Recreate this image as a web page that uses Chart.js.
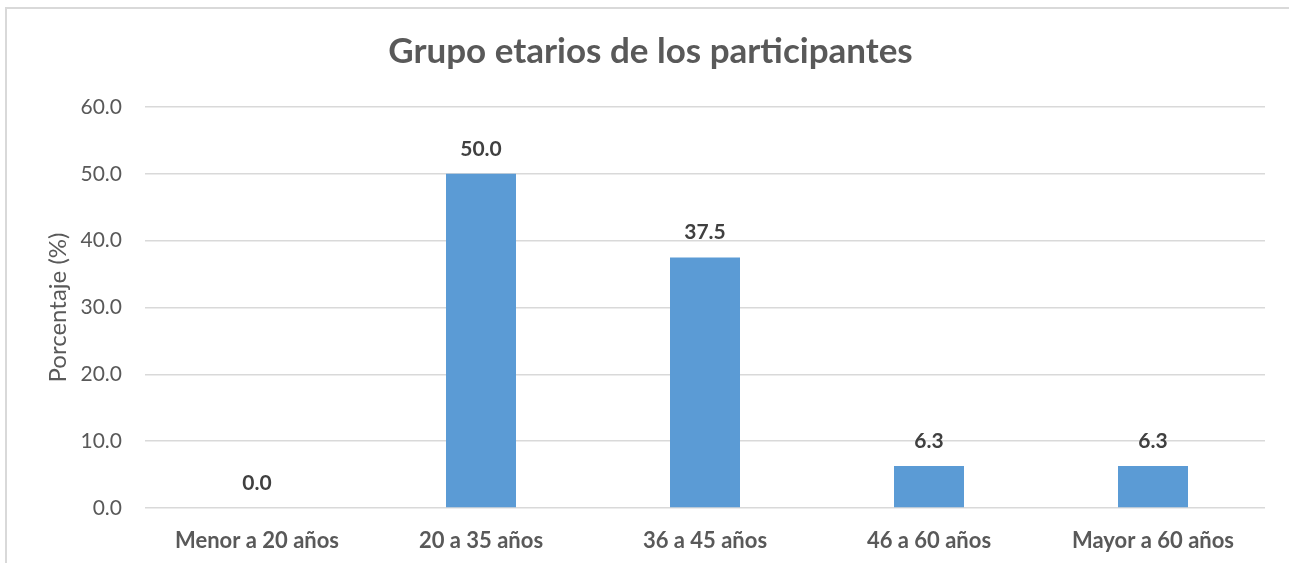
<!DOCTYPE html>
<html>
<head>
<meta charset="utf-8">
<script src="https://cdn.jsdelivr.net/npm/chart.js@4/dist/chart.umd.min.js"></script>
<style>
  html, body { margin:0; padding:0; background:#fff; }
  #wrap { position:relative; width:1289px; height:563px; overflow:hidden; }
  #frame { position:absolute; left:5px; top:7px; width:1300px; height:600px; border:2px solid #d9d9d9; box-sizing:border-box; }
  canvas { position:absolute; left:0; top:0; }
</style>
</head>
<body>
<div id="wrap">
  <div id="frame"></div>
  <canvas id="c" width="1289" height="563"></canvas>
</div>
<script>
const categories = ['Menor a 20 años', '20 a 35 años', '36 a 45 años', '46 a 60 años', 'Mayor a 60 años'];
const percentages = [0.0, 50.0, 37.5, 6.3, 6.3];
const yTicks = [0, 10, 20, 30, 40, 50, 60];
const chartTitle = 'Grupo etarios de los participantes';
const yTitle = 'Porcentaje (%)';

const FONT = 'Lato, "Open Sans", sans-serif';

const valueLabels = {
  id: 'valueLabels',
  afterDatasetsDraw(chart) {
    const ctx = chart.ctx;
    const meta = chart.getDatasetMeta(0);
    ctx.save();
    ctx.font = 'bold 21px ' + FONT;
    ctx.fillStyle = '#404040';
    ctx.textAlign = 'center';
    ctx.textBaseline = 'middle';
    meta.data.forEach((bar, i) => {
      const v = chart.data.datasets[0].data[i];
      ctx.fillText(v.toFixed(1), bar.x, bar.y - 25);
    });
    ctx.restore();
  }
};

new Chart(document.getElementById('c'), {
  type: 'bar',
  data: {
    labels: categories,
    datasets: [{
      data: percentages,
      backgroundColor: '#5B9BD5',
      borderWidth: 0,
      barPercentage: 0.3125,
      categoryPercentage: 1.0
    }]
  },
  options: {
    responsive: false,
    animation: false,
    layout: { padding: { left: 36, right: 24, top: 8, bottom: 0 } },
    plugins: {
      legend: { display: false },
      tooltip: { enabled: false },
      title: {
        display: true,
        text: chartTitle,
        color: '#595959',
        font: { family: FONT, size: 35, weight: 'bold', lineHeight: 1.2 },
        padding: { top: 23, bottom: 34 }
      }
    },
    scales: {
      x: {
        afterFit(scale) { scale.height = 55; },
        grid: { display: false, drawTicks: false },
        border: { display: false },
        ticks: {
          color: '#595959',
          font: { family: FONT, size: 22, weight: 'bold' },
          padding: 20,
          maxRotation: 0
        }
      },
      y: {
        min: 0,
        max: 60,
        afterBuildTicks(scale) { scale.ticks = yTicks.map(v => ({ value: v })); },
        afterFit(scale) { scale.width = 109; },
        grid: { color: '#d9d9d9', lineWidth: 1.5, drawTicks: false },
        border: { display: false },
        ticks: {
          color: '#595959',
          font: { family: FONT, size: 21 },
          padding: 23,
          callback: v => Number(v).toFixed(1)
        },
        title: {
          display: true,
          text: yTitle,
          color: '#595959',
          font: { family: FONT, size: 24 },
          padding: { top: 8, bottom: 0 }
        }
      }
    }
  },
  plugins: [valueLabels]
});
</script>
</body>
</html>
